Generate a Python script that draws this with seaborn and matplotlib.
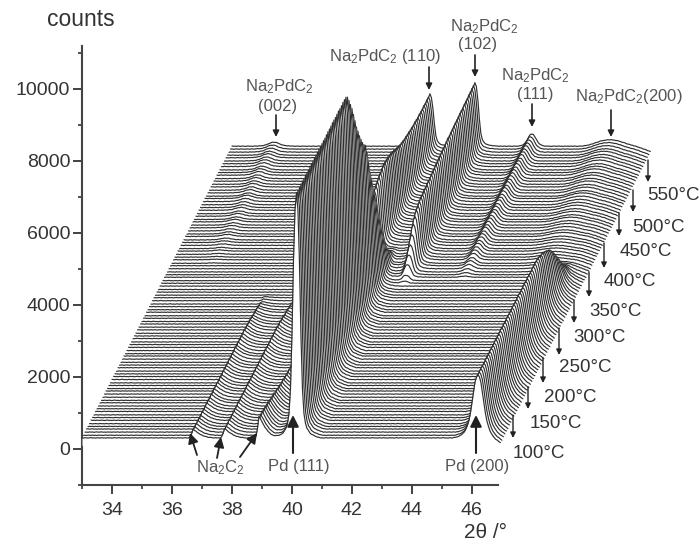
import numpy as np
import pandas as pd
import seaborn as sns
import matplotlib.pyplot as plt
from matplotlib.ticker import MultipleLocator

sns.set_style('ticks')
plt.rcParams['font.family'] = ['Liberation Sans', 'DejaVu Sans']
plt.rcParams['mathtext.default'] = 'regular'

# peak heights above background per trace, 100 C at index 0, one trace per 5 C
pd111_h = [6800]*34 + [6700, 6550, 6350, 6150, 5900, 5650, 5400, 5200, 5000, 4800, 4650, 4500, 4400, 4100, 3700,
                       3400, 3100, 2800, 2500, 2200, 1900, 1600, 1300, 1000, 750, 550, 380, 250, 150, 90, 50, 20] + [0]*35
pd200_h = [1750]*41 + [1720, 1680, 1640, 1600, 1540, 1480, 1400, 1320, 1220, 1100, 960, 820, 680, 540, 400,
                       280, 180, 100, 50, 20] + [0]*40
na2c2_a_h = [240]*36 + [230, 220, 210, 195, 180, 165, 150, 130, 110, 90, 70, 50, 30, 10] + [0]*51
na2c2_b_h = [260]*36 + [250, 240, 225, 210, 190, 170, 150, 130, 110, 90, 70, 50, 30, 10] + [0]*51
na2c2_c_h = [600, 590, 580, 570, 560, 540, 520, 500, 480, 460, 440, 420, 400, 380, 360, 340, 330, 320, 310, 300,
             290, 280, 270, 260, 250, 240, 230, 220, 210, 200, 190, 180, 170, 160, 150, 140, 130, 120, 110, 100,
             90, 80, 70, 60, 50, 40, 30, 20, 10] + [0]*52
p110_h = [0]*50 + [60, 120, 180, 250, 320, 450, 650, 900, 1100, 1300, 1450, 1580, 1680, 1760, 1820, 1870, 1910, 1950,
                   1980, 2000, 2000, 1990, 1970, 1950, 1920, 1880, 1840, 1790, 1750, 1710, 1670, 1640, 1610, 1590, 1570,
                   1550, 1530, 1510, 1500, 1490, 1480, 1470, 1460, 1460, 1450, 1450, 1450, 1450, 1450, 1450, 1450]
p102_h = [0]*53 + [60, 150, 350, 550, 750, 950, 1150, 1300, 1380, 1430, 1470, 1500, 1510, 1520, 1530, 1540, 1550, 1560,
                   1570, 1580, 1590, 1600, 1610, 1620, 1630, 1640, 1650, 1660, 1670, 1680, 1680, 1690, 1700, 1700, 1710,
                   1710, 1720, 1720, 1730, 1730, 1740, 1740, 1750, 1750, 1760, 1760, 1770, 1770, 1770]
p111_h = [0]*55 + [30, 60, 90, 120, 140, 160, 180, 200, 210, 220, 230, 240, 245, 250, 255, 260, 265, 270, 270, 275, 280,
                   280, 285, 290, 290, 295, 300, 300, 305, 310, 310, 315, 320, 320, 325, 325, 330, 330, 330, 335, 335,
                   335, 340, 340, 340, 340]
p200_h = [0]*56 + [15, 30, 40, 50, 60, 70, 75, 80, 85, 90, 95, 100, 105, 110, 115, 120, 120, 125, 130, 130, 135, 140,
                   140, 145, 150, 150, 155, 155, 160, 160, 165, 165, 170, 170, 175, 175, 175, 180, 180, 180, 180, 180,
                   180, 180, 180]
p002_h = [0]*60 + [10, 15, 20, 25, 30, 35, 40, 45, 50, 55, 60, 60, 65, 65, 70, 70, 75, 75, 80, 80, 85, 85, 90, 90, 90,
                   95, 95, 95, 100, 100, 100, 105, 105, 105, 110, 110, 110, 110, 110, 110, 110]

# small trace to trace drift of the background, counts
trace_drift = [3, -5, 2, 6, -3, -8, 5, 0, -6, 8, 2, -3, 6, -8, -2, 5, 9, -5, 0, -9, 3, 6, -2, -6, 8,
               0, -5, 3, 9, -8, -3, 5, 2, -6, 8, -2, -9, 5, 0, 6, -5, 3, -8, 9, -2, 2, -6, 5, 8, -3,
               0, -8, 6, 3, -5, 9, -2, -6, 2, 5, -9, 8, 0, -3, 6, -6, 3, 2, -8, 9, -5, 0, 5, -2, 8,
               -6, 3, -9, 6, 0, -3, 5, 9, -8, 2, -5, 6, -2, 3, -6, 8, 0, -9, 5, 2, -3, 6, -5, 0, 3, 2]

# counting scatter along a trace, counts
line_scatter = [2, -4, 6, -1, -5, 3, 7, -3, 1, -6, 4, 2, -5, 6, -2, 0, -6, 5, -1, 3, -7, 2, 6, -3,
                0, 6, -3, 2, -6, 5, -2, 3, -5, 6, -3, 0, 5, -6, 1, 4, -2, -5, 7, -1, 2, -4, 5]

# droop of the background at the right end of the traces, counts
end_droop = [5, 10, 20, 30, 40, 55, 70, 85, 100, 115, 130, 150]

# profiles of the peaks from the apex outwards in steps of 0.05 deg, left side then right side
sharp_shape = [1.0, 0.93, 0.72, 0.42, 0.2, 0.1, 0.06, 0.04, 0.03, 0.02, 0.015, 0.012, 0.009, 0.006, 0.004, 0.002]
medium_shape = [1.0, 0.97, 0.88, 0.72, 0.55, 0.4, 0.28, 0.2, 0.14, 0.1, 0.07, 0.05, 0.035, 0.025, 0.015, 0.01, 0.005]
narrow_shape = [1.0, 0.95, 0.78, 0.55, 0.34, 0.2, 0.11, 0.06, 0.03, 0.015]
broad_shape = [1.0, 0.99, 0.97, 0.94, 0.9, 0.85, 0.79, 0.72, 0.65, 0.57, 0.49, 0.41, 0.33, 0.26, 0.2, 0.15, 0.1, 0.07,
               0.04, 0.02, 0.01]
saw_left = [1.0, 0.45, 0.08]
saw_right = [1.0, 0.88, 0.75, 0.62, 0.5, 0.4, 0.31, 0.24, 0.18, 0.13, 0.09, 0.06, 0.04, 0.02]

# name, 2theta of the front trace, heights, left profile, right profile
peaks = [
    ('Na2C2 a', 36.7, na2c2_a_h, saw_left, saw_right),
    ('Na2C2 b', 37.75, na2c2_b_h, saw_left, saw_right),
    ('Na2C2 c', 38.9, na2c2_c_h, saw_left, saw_right),
    ('Pd 111', 40.15, pd111_h, sharp_shape, sharp_shape),
    ('Pd 200', 46.2, pd200_h, medium_shape, medium_shape),
    ('110', 39.6, p110_h, sharp_shape, sharp_shape),
    ('102', 41.1, p102_h, sharp_shape, sharp_shape),
    ('111', 43.0, p111_h, narrow_shape, narrow_shape),
    ('200', 45.6, p200_h, broad_shape, broad_shape),
    ('002', 34.4, p002_h, medium_shape, medium_shape),
]

background = 305
y_step = 81
x_step = 0.05
n_traces = 101
two_theta = 33 + x_step * np.arange(280)

y_tick_vals = [0, 2000, 4000, 6000, 8000, 10000]
x_tick_vals = [34, 36, 38, 40, 42, 44, 46]
temp_labels = ['100°C', '150°C', '200°C', '250°C', '300°C', '350°C', '400°C', '450°C', '500°C', '550°C']

fig = plt.figure(figsize=(7, 5.4), dpi=100)


def px(x, y):
    # reference pixels to figure fraction
    return x / 700, 1 - y / 540


ax = fig.add_axes([82 / 700, 1 - 485 / 540, (498 - 82) / 700, (485 - 46) / 540])


def trace_counts(i):
    counts = np.full(len(two_theta), background + y_step * i + trace_drift[i], dtype=float)
    # scatter list is walked from a different start on every trace
    scatter = np.array(line_scatter)
    counts += scatter[(np.arange(len(two_theta)) + 7 * i) % len(scatter)]
    counts[-len(end_droop):] -= end_droop
    for name, pos, heights, left, right in peaks:
        shape = np.array(left[:0:-1] + right)
        centre = int(round((pos - 33) / x_step))
        start = centre - len(left) + 1
        idx = np.arange(start, start + len(shape))
        keep = (idx >= 0) & (idx < len(two_theta))
        counts[idx[keep]] += heights[i] * shape[keep]
    return counts


for i in range(n_traces - 1, -1, -1):
    df = pd.DataFrame({'x': two_theta + x_step * i, 'y': trace_counts(i)})
    z = 2 * (n_traces - i) + 5
    ax.fill_between(df['x'], df['y'], background + y_step * i - 200, color='white', lw=0, zorder=z, clip_on=False)
    sns.lineplot(data=df, x='x', y='y', color='#303030', lw=0.85, estimator=None, errorbar=None, sort=False,
                 legend=False, ax=ax, zorder=z + 1, clip_on=False)

ax.set_xlim(33, 46.87)
ax.set_ylim(-1000, 11190)
ax.set_xlabel('')
ax.set_ylabel('')
ax.set_xticks(x_tick_vals)
ax.set_yticks(y_tick_vals)
ax.xaxis.set_minor_locator(MultipleLocator(1))
ax.yaxis.set_minor_locator(MultipleLocator(1000))
ax.tick_params(which='major', length=6.5, width=1.3, color='#333333', labelsize=14, labelcolor='#333333')
ax.tick_params(which='minor', length=3, width=1.2, color='#333333')
ax.tick_params(axis='y', which='major', pad=2)
ax.tick_params(axis='x', which='major', pad=6)
for side in ['top', 'right']:
    ax.spines[side].set_visible(False)
for side in ['left', 'bottom']:
    ax.spines[side].set_linewidth(1.5)
    ax.spines[side].set_color('#444444')


def label(x, y, s, size=12, color='#555555'):
    ax.text(*px(x, y), s, transform=fig.transFigure, ha='center', va='center', fontsize=size, color=color,
            zorder=500, clip_on=False)


def arrow(x0, y0, x1, y1, scale=9, lw=1.2, color='#222222'):
    ax.annotate('', xy=px(x1, y1), xytext=px(x0, y0), xycoords='figure fraction', textcoords='figure fraction',
                arrowprops=dict(arrowstyle='-|>', color=color, lw=lw, mutation_scale=scale, shrinkA=0, shrinkB=0),
                zorder=500, annotation_clip=False)


na = 'Na$_2$PdC$_2$'
label(81, 20, 'counts', size=16.5, color='#333333')
label(279, 87, na)
label(278, 107, '(002)')
arrow(276, 115, 276, 137)
label(385, 57, na + ' (110)')
arrow(429, 67, 429, 90)
label(484, 27, na)
label(478, 44, '(102)')
arrow(475, 55, 475, 77)
label(535, 76, na)
label(535, 95, '(111)')
arrow(532, 104, 532, 127)
label(629, 96, na + '(200)')
arrow(611, 110, 611, 137)

label(220, 468, 'Na$_2$C$_2$')
arrow(197, 455, 190, 433, scale=15, lw=1.3)
arrow(217, 458, 221, 437, scale=15, lw=1.3)
arrow(240, 457, 257, 433, scale=15, lw=1.3)
label(299, 467, 'Pd (111)')
arrow(293, 453, 293, 415, scale=17, lw=1.5)
label(477, 467, 'Pd (200)')
arrow(476, 453, 476, 415, scale=17, lw=1.5)
label(485, 532, '2θ /°', size=15, color='#333333')

temp_arrows = [(513, 415, 438), (528, 387, 409), (543, 358, 383), (559, 328, 355), (574, 300, 323),
               (589, 272, 297), (604, 243, 268), (619, 213, 236), (633, 190, 212), (648, 160, 182)]
temp_pos = [(539, 453), (556, 423), (570, 397), (585, 368), (600, 337),
            (616, 311), (630, 281), (646, 252), (658, 227), (673, 195)]
for (ax_x, y0, y1), (tx, ty), s in zip(temp_arrows, temp_pos, temp_labels):
    arrow(ax_x, y0, ax_x, y1, scale=8, lw=1.0)
    label(tx, ty, s, size=13.5, color='#333333')

fig.savefig('out.png', dpi=100)
